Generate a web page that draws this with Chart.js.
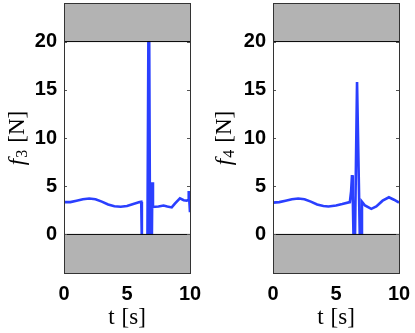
<!DOCTYPE html>
<html>
<head>
<meta charset="utf-8">
<script src="https://cdn.jsdelivr.net/npm/chart.js@4"></script>
<style>
    body { margin: 0; background: #fff; }
    #wrap { position: relative; width: 415px; height: 333px; }
    canvas { position: absolute; top: 0; }
</style>
</head>
<body>
<div id="wrap">
    <canvas id="chart-f3" width="207" height="333" style="left:0"></canvas>
    <canvas id="chart-f4" width="208" height="333" style="left:207px"></canvas>
</div>
<script>
// Data (time in s, force in N)
const t3 = [0, 0.5, 1, 1.5, 2, 2.5, 3, 3.5, 4, 4.5, 5, 5.5, 6.0, 6.13, 6.18, 6.62, 6.7, 6.76, 6.83, 6.97, 7.01, 7.06, 7.5, 7.9, 8.2, 8.55, 8.8, 9.2, 9.5, 9.75, 9.88, 9.9, 10];
const f3 = [3.35, 3.35, 3.5, 3.65, 3.72, 3.65, 3.4, 3.1, 2.92, 2.87, 2.95, 3.15, 3.35, 3.38, -1, -1, 21, 21, -1, -1, 5.4, 2.85, 2.9, 3.0, 2.9, 2.8, 3.2, 3.75, 3.55, 3.5, 3.6, 4.5, 2.3];

const t4 = [0, 0.5, 1, 1.5, 2, 2.5, 3, 3.5, 4, 4.4, 5, 5.5, 6.1, 6.2, 6.27, 6.33, 6.4, 6.5, 6.67, 6.9, 7.0, 7.06, 7.3, 7.8, 8.2, 8.7, 9.2, 9.6, 10];
const f4 = [3.3, 3.35, 3.5, 3.65, 3.72, 3.65, 3.4, 3.1, 2.95, 2.9, 3.0, 3.15, 3.35, 4.5, 6.15, 4.0, -1, -1, 15.8, -1, -1, 3.4, 3.0, 2.65, 2.9, 3.5, 3.85, 3.6, 3.3];

const xTicks = [0, 5, 10];
const yTicks = [0, 5, 10, 15, 20];
const xRange = [0, 10];
const yRange = [-4, 24];
const forceLimits = [0, 20];   // lower / upper saturation, shaded outside

const BLUE = '#2a3fff';
const GRAY = '#b3b3b3';

// axes box, inner y tick marks and the two axis titles
const decorPlugin = {
    id: 'decor',
    afterDraw(chart, args, opts) {
        const ctx = chart.ctx;
        const a = chart.chartArea;
        const y = chart.scales.y;
        ctx.save();
        ctx.strokeStyle = '#555';
        ctx.lineWidth = 1;
        y.ticks.forEach(tk => {
            const py = Math.round(y.getPixelForValue(tk.value)) + 0.5;
            ctx.beginPath();
            ctx.moveTo(a.left, py); ctx.lineTo(a.left + 3, py);
            ctx.moveTo(a.right, py); ctx.lineTo(a.right - 3, py);
            ctx.stroke();
        });
        ctx.strokeStyle = '#333';
        ctx.strokeRect(Math.round(a.left) + 0.5, Math.round(a.top) + 0.5,
            Math.round(a.right - a.left), Math.round(a.bottom - a.top));

        // x title
        ctx.fillStyle = '#000';
        ctx.textBaseline = 'middle';
        ctx.font = '23px "Liberation Serif"';
        const tW = ctx.measureText('t').width;
        const sW = ctx.measureText('[s]').width;
        const gap = 7;
        const cx = (a.left + a.right) / 2;
        let x0 = cx - (tW + gap + sW) / 2;
        ctx.textAlign = 'left';
        ctx.fillText('t', x0, 318);
        ctx.fillText('[s]', x0 + tW + gap, 318);

        // y title, rotated
        ctx.translate(18, (a.top + a.bottom) / 2);
        ctx.rotate(-Math.PI / 2);
        ctx.font = 'italic 23px "Liberation Serif"';
        const fW = ctx.measureText('f').width;
        ctx.font = '16px "Liberation Serif"';
        const subW = ctx.measureText(opts.sub).width;
        ctx.font = '23px "Liberation Serif"';
        const nW = ctx.measureText('[N]').width;
        const total = fW + 1 + subW + gap + nW;
        let px = -total / 2;
        ctx.font = 'italic 23px "Liberation Serif"';
        ctx.fillText('f', px, 0);
        px += fW + 1;
        ctx.font = '16px "Liberation Serif"';
        ctx.fillText(opts.sub, px, 5);
        px += subW + gap;
        ctx.font = '23px "Liberation Serif"';
        ctx.fillText('[N]', px, 0);
        ctx.restore();
    }
};

const noPad = s => { s.paddingTop = 0; s.paddingBottom = 0; s.paddingLeft = 0; s.paddingRight = 0; };

function makeChart(id, times, values, sub, padLeft, padRight) {
    const band = (yv, fill) => ({
        data: [{ x: xRange[0], y: yv }, { x: xRange[1], y: yv }],
        fill: fill,
        backgroundColor: GRAY,
        borderColor: '#000',
        borderWidth: 1,
        pointRadius: 0,
        order: 0
    });
    return new Chart(document.getElementById(id), {
        type: 'line',
        data: {
            datasets: [
                band(forceLimits[1], 'end'),
                band(forceLimits[0], 'start'),
                {
                    data: times.map((t, i) => ({ x: t, y: values[i] })),
                    borderColor: BLUE,
                    borderWidth: 2.6,
                    pointRadius: 0,
                    fill: false,
                    tension: 0,
                    order: 1
                }
            ]
        },
        options: {
            responsive: false,
            devicePixelRatio: 1,
            animation: false,
            layout: { padding: { left: padLeft, right: padRight, top: 3, bottom: 26 } },
            plugins: { legend: { display: false }, tooltip: { enabled: false }, decor: { sub: sub } },
            scales: {
                x: {
                    type: 'linear', min: xRange[0], max: xRange[1],
                    grid: { display: false, drawTicks: false }, border: { display: false },
                    afterBuildTicks: s => { s.ticks = xTicks.map(v => ({ value: v })); },
                    afterFit: s => { s.height = 34; noPad(s); },
                    ticks: { color: '#000', padding: 9, maxRotation: 0, font: { family: '"Liberation Sans", Arial', weight: 'bold', size: 20 } }
                },
                y: {
                    min: yRange[0], max: yRange[1],
                    grid: { display: false, drawTicks: false }, border: { display: false },
                    afterBuildTicks: s => { s.ticks = yTicks.map(v => ({ value: v })); },
                    afterFit: s => { s.width = 40; noPad(s); },
                    ticks: { color: '#000', padding: 7, font: { family: '"Liberation Sans", Arial', weight: 'bold', size: 20 } }
                }
            }
        },
        plugins: [decorPlugin]
    });
}

makeChart('chart-f3', t3, f3, '3', 24, 17);
makeChart('chart-f4', t4, f4, '4', 26, 16);
</script>
</body>
</html>
